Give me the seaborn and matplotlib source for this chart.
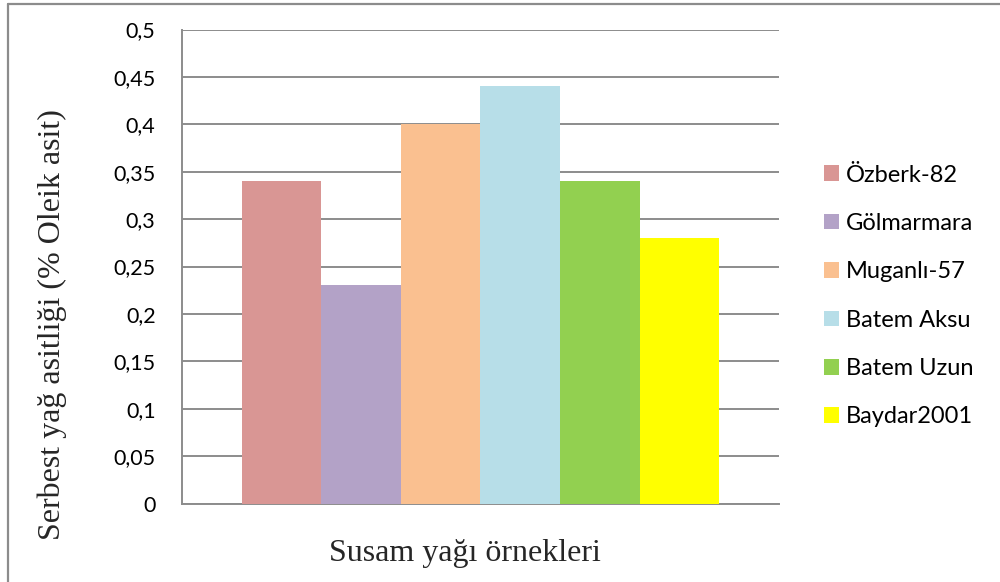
import matplotlib
matplotlib.use("Agg")
import matplotlib.pyplot as plt
from matplotlib.lines import Line2D
from matplotlib.ticker import FuncFormatter
import seaborn as sns
import pandas as pd

# Free fatty acidity of sesame oil samples
samples = ["Özberk-82", "Gölmarmara", "Muganlı-57", "Batem Aksu", "Batem Uzun", "Baydar2001"]
acidity = [0.34, 0.23, 0.40, 0.44, 0.34, 0.28]
colors = ["#D99694", "#B3A2C7", "#FAC090", "#B7DEE8", "#92D050", "#FFFF00"]
y_ticks = [0, 0.05, 0.1, 0.15, 0.2, 0.25, 0.3, 0.35, 0.4, 0.45, 0.5]

df = pd.DataFrame({"grup": ["Susam"] * len(samples), "ornek": samples, "deger": acidity})

sns.set_theme(style="white")
plt.rcParams["font.family"] = ["Lato", "DejaVu Sans"]

W, H = 1000, 582
fig = plt.figure(figsize=(W / 100, H / 100), dpi=100)
ax = fig.add_axes([182 / W, 1 - 503.5 / H, (779 - 182) / W, (503.5 - 29.5) / H])

sns.barplot(data=df, x="grup", y="deger", hue="ornek", hue_order=samples,
            palette=colors, saturation=1, width=0.8, dodge=True,
            edgecolor="none", linewidth=0, ax=ax, zorder=3)

grid_col = "#8C8C8C"
ax.set_ylim(0, 0.5)
ax.set_xlim(-0.5, 0.5)
ax.set_yticks(y_ticks)
ax.yaxis.set_major_formatter(FuncFormatter(lambda v, p: f"{v:.2f}".rstrip("0").rstrip(".").replace(".", ",")))
ax.grid(axis="y", color=grid_col, linewidth=1.4, zorder=0)
ax.set_axisbelow(True)
ax.set_xticks([])
ax.set_xlabel("")
ax.set_ylabel("")
ax.tick_params(axis="y", length=0, pad=19, labelsize=15.5, labelcolor="#000000")
for s in ["top", "right"]:
    ax.spines[s].set_visible(False)
for s in ["left", "bottom"]:
    ax.spines[s].set_color(grid_col)
    ax.spines[s].set_linewidth(1.4)

# Axis titles in a serif face
fig.text(52 / W, 1 - 325 / H, "Serbest yağ asitliği (% Oleik asit)", rotation=90,
         ha="center", va="center", fontsize=23, family=["Liberation Serif", "DejaVu Serif"])
fig.text(465 / W, 1 - 561 / H, "Susam yağı örnekleri", ha="center", va="baseline",
         fontsize=23, family=["Liberation Serif", "DejaVu Serif"])

leg = ax.legend(loc="upper left", bbox_to_anchor=(824 / W, 1 - 164.5 / H),
                bbox_transform=fig.transFigure, frameon=False, fontsize=17,
                handlelength=0.64, handleheight=0.64, handletextpad=0.3,
                labelspacing=1.16, borderpad=0, borderaxespad=0)
for t in leg.get_texts():
    t.set_color("#000000")

# Chart frame
fig.add_artist(Line2D([7.5 / W, 7.5 / W], [0, 1 - 4 / H], transform=fig.transFigure,
                      color=grid_col, linewidth=1.6))
fig.add_artist(Line2D([7.5 / W, 1], [1 - 4 / H, 1 - 4 / H], transform=fig.transFigure,
                      color=grid_col, linewidth=1.6))

fig.savefig("out.png", dpi=100)
